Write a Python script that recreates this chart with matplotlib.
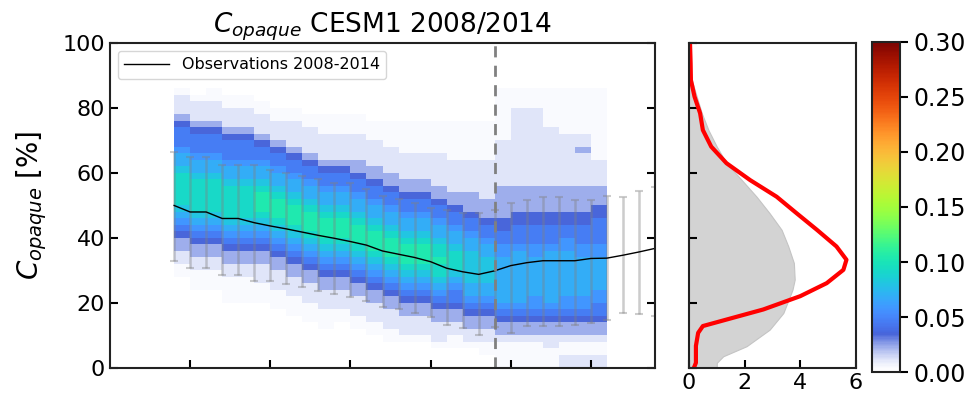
import numpy as np
import matplotlib
matplotlib.use('Agg')
import matplotlib.pyplot as plt
from matplotlib.colors import ListedColormap

# =============================================================================
# Data
# =============================================================================

# observations 2008-2014 (x = time index), mean and spread
obs_x = np.arange(4, 35)
obs_mean = [50, 48, 48, 46, 46, 44.7, 43.7, 42.8, 41.8, 40.8, 39.9, 38.9, 37.8,
            36, 35, 34, 32.7, 30.7, 29.6, 28.8, 29.9, 31.5, 32.4, 33, 33, 33,
            33.7, 33.8, 34.7, 35.7, 36.8]
obs_high = [66.5, 64.8, 64.8, 62.5, 62.5, 62.5, 60.9, 60, 59.2, 58.2, 57, 57, 55,
            53, 52, 50.7, 49.2, 48.6, 47.8, 47.6, 48.6, 50.9, 51.7, 52.7, 52.7,
            51.7, 51.7, 52.9, 52.7, 54.6, 55.8]
obs_low = [33, 30.7, 30.7, 28.6, 28.6, 26.9, 26.9, 25.8, 24.8, 23.8, 22.8, 21.9,
           20.7, 18.9, 18, 16.9, 15.8, 13.2, 12.4, 10.1, 12.7, 10.9, 12.9, 12.9,
           12.9, 13.2, 13.7, 14.8, 16.8, 16.7, 16]

# CESM1 histogram: one column per time step, top edge (%) and cell levels
# going down in 2 % bins ('.' = very faint, digit * level_step = frequency)
hist_x0 = 4
level_step = 0.0115
hist_top = [86, 84, 86, 84, 84, 82, 80, 80, 78, 78, 78, 78, 76, 76, 76, 76, 76,
            76, 76, 76, 86, 86, 86, 86, 86, 86, 86]
hist_cols = [
    ".1112" + "3444566788888765432211" + "..",
    ".1112" + "3444566788888765432211" + "...",
    "..1112" + "3444566788888765432211" + "...",
    "..1112" + "3444566788888765432211" + "....",
    "..1112" + "3444566788888765432211" + "....",
    "..1112" + "3445667899987654322111" + "...",
    "..1112" + "3445667899987654322111" + "...",
    "..11112" + "3445667899987654322111" + "...",
    "..11112" + "3445667899987654322111" + "...",
    "...11112" + "3445667899987654322111" + "...",
    "...11112" + "3445667899987654322111" + "..",
    "...111122" + "3445667899987654322111" + "..",
    "...111122" + "3445667899987654322111" + "..",
    "....111122" + "3445667899987654322111" + "..",
    ".....111122" + "3445667899987654322111" + ".",
    ".....111122" + "3445667899987654322111" + ".",
    ".....1111122" + "3445667889887654322111" + ".",
    "......1111122" + "34456678887654432211..",
    "......11111222" + "34456677777665432211.",
    "......111111222" + "3445667777665432211..",
    "........" + "1111111" + "222" + "22" + "3344" + "5566666665" + "43" + "22" + "1....",
    "..." + "111111111111" + "222" + "23" + "3444" + "5666666665" + "43" + "22" + "1....",
    "..." + "111111111111" + "222" + "23" + "3444" + "5566666655" + "43" + "22" + "1....",
    "......" + "111111111" + "222" + "23" + "3444" + "5666666665" + "43" + "22" + "11...",
    "......." + "11111111" + "222" + "23" + "3445" + "5666666655" + "43" + "22" + "1..11",
    "......." + "11211111" + "222" + "23" + "3444" + "5566666655" + "43" + "22" + "1..11",
    "..........." + "1111" + "222" + "33" + "4444" + "5566666554" + "43" + "22" + "1..11",
]

# right panel: vertical distributions (x in %, y = C_opaque %)
model_y = [100, 93.7, 88.6, 83.5, 78.4, 73.2, 68.1, 63.0, 57.8, 52.7, 47.6, 42.5,
           37.4, 32.3, 27.2, 24.1, 22.1, 16.9, 11.8, 6.7, 3.6, 1.6, 0]
model_pdf = [0, 0.04, 0.1, 0.28, 0.46, 0.7, 1.0, 1.35, 1.9, 2.43, 2.9, 3.33,
             3.57, 3.77, 3.8, 3.72, 3.63, 3.39, 2.9, 2.07, 1.23, 1.0, 1.0]
obs_y = [99.4, 93.7, 88.6, 83.5, 78.4, 73.2, 68.1, 63.0, 57.8, 52.7, 47.6, 42.5,
         37.4, 33.3, 30.2, 26.1, 22.1, 18.0, 14.9, 12.9, 10.8, 6.8, 1.6, 0.1]
obs_pdf = [0.04, 0.06, 0.07, 0.2, 0.4, 0.5, 0.8, 1.35, 2.2, 3.15, 3.87, 4.6,
           5.3, 5.66, 5.55, 4.95, 4.0, 2.67, 1.35, 0.5, 0.33, 0.25, 0.25, 0.18]

# =============================================================================
# Build the histogram array
# =============================================================================
y_edges = np.arange(0, 102, 2)
x_edges = np.arange(hist_x0, hist_x0 + len(hist_cols) + 1)
H = np.zeros((len(y_edges) - 1, len(hist_cols)))
for k, (top, col) in enumerate(zip(hist_top, hist_cols)):
    for j, c in enumerate(col):
        row = (top - 2 * j) // 2 - 1
        if row < 0:
            break
        H[row, k] = (0.35 if c == '.' else float(c)) * level_step
H = np.ma.masked_equal(H, 0)

# white -> turbo colormap
turbo = plt.get_cmap('turbo')
f = np.linspace(0, 1, 256)
cols = turbo(f)
f0 = 0.115
base = np.array(turbo(f0))
for i in range(256):
    if f[i] < f0:
        t = (f[i] / f0) ** 1.5
        cols[i] = (1 - t) * np.array([1, 1, 1, 1]) + t * base
cmap = ListedColormap(cols)

# =============================================================================
# Plotting
# =============================================================================
plt.rcParams.update({'font.family': 'DejaVu Sans',
                     'axes.linewidth': 1.5,
                     'axes.edgecolor': '#222222'})

fig = plt.figure(figsize=(9.69, 3.95), dpi=100, facecolor='w')

ax = fig.add_axes([0.1135, 0.0684, 0.5625, 0.8228])
pc = ax.pcolormesh(x_edges, y_edges, H, cmap=cmap, vmin=0, vmax=0.3)
ax.errorbar(obs_x, obs_mean,
            yerr=[np.array(obs_mean) - np.array(obs_low),
                  np.array(obs_high) - np.array(obs_mean)],
            fmt='none', ecolor='gray', alpha=0.4, elinewidth=1.8,
            capsize=3, capthick=1.5)
ax.plot(obs_x, obs_mean, color='k', lw=1, label='Observations 2008-2014')
ax.axvline(24, color='gray', lw=2, ls=(0, (4, 3)))
ax.set_xlim(0, 34)
ax.set_ylim(0, 100)
ax.set_xticks([5, 10, 15, 20, 25, 30])
ax.set_xticklabels([])
ax.set_yticks([0, 20, 40, 60, 80, 100])
ax.tick_params(direction='in', length=6, width=1.5, labelsize=16, right=True)
ax.set_ylabel(r'$C_{opaque}$ [%]', fontsize=20, labelpad=10)
ax.set_title(r'$C_{opaque}$ CESM1 2008/2014', fontsize=19, pad=5)
ax.legend(loc='upper left', fontsize=11.5, handlelength=2.8)

ax2 = fig.add_axes([0.711, 0.0684, 0.1723, 0.8228])
ax2.fill_betweenx(model_y, 0, model_pdf, color='#d3d3d3', lw=0.8,
                  edgecolor='#c4c4c4')
ax2.plot(obs_pdf, obs_y, color='red', lw=3)
ax2.set_xlim(0, 6)
ax2.set_ylim(0, 100)
ax2.set_xticks([0, 2, 4, 6])
ax2.set_yticks([0, 20, 40, 60, 80, 100])
ax2.set_yticklabels([])
ax2.tick_params(direction='in', length=6, width=1.5, labelsize=16)

cax = fig.add_axes([0.9, 0.058, 0.0289, 0.836])
bar = fig.colorbar(pc, cax=cax)
bar.set_ticks([0, 0.05, 0.1, 0.15, 0.2, 0.25, 0.3])
bar.ax.set_yticklabels(['0.00', '0.05', '0.10', '0.15', '0.20', '0.25', '0.30'])
bar.ax.tick_params(labelsize=17, length=6, width=1.5)
bar.outline.set_linewidth(1.5)

plt.savefig('out.png', dpi=100)
